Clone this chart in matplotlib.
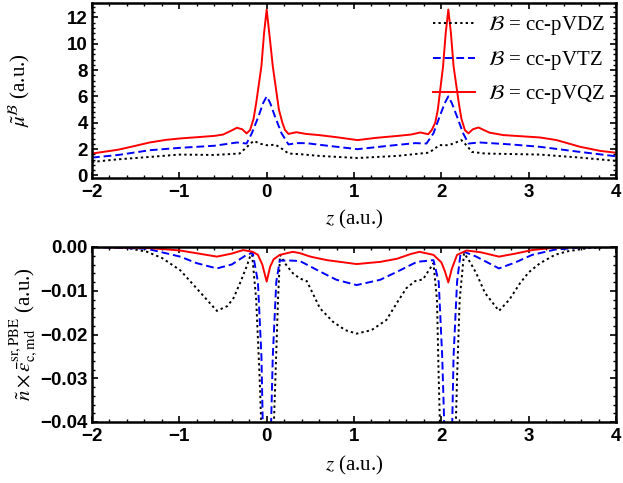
import matplotlib
matplotlib.use("Agg")
import matplotlib.pyplot as plt
from matplotlib.ticker import MultipleLocator

plt.rcParams['mathtext.fontset'] = 'stix'
plt.rcParams['axes.unicode_minus'] = True

# top panel: mu tilde
z_vdz_top = [-2.0, -1.7, -1.34, -1.0, -0.6, -0.31, -0.22, -0.15, -0.07, 0.0, 0.1, 0.18, 0.25,
             0.4, 0.6, 1.04, 1.5, 1.86, 1.98, 2.08, 2.15, 2.23, 2.3, 2.35, 2.5, 3.13, 3.59, 4.0]
mu_vdz = [1.02, 1.22, 1.4, 1.58, 1.55, 1.66, 2.2, 2.62, 2.4, 2.29, 2.33, 2.0, 1.66,
          1.6, 1.48, 1.32, 1.48, 1.73, 2.3, 2.29, 2.45, 2.68, 2.2, 1.78, 1.66, 1.58, 1.35, 1.1]

z_vtz_top = [-2.0, -1.7, -1.34, -1.0, -0.6, -0.34, -0.23, -0.17, -0.095, -0.04, 0.0, 0.04, 0.096,
             0.17, 0.25, 0.34, 0.45, 0.7, 1.04, 1.4, 1.7, 1.83, 1.91, 1.98, 2.04, 2.08, 2.12,
             2.18, 2.25, 2.31, 2.44, 2.8, 3.13, 3.59, 4.0]
mu_vtz = [1.35, 1.55, 1.91, 2.09, 2.25, 2.5, 2.42, 3.2, 4.46, 5.5, 6.0, 5.5, 4.46,
          3.2, 2.35, 2.45, 2.45, 2.25, 1.99, 2.25, 2.45, 2.42, 3.2, 4.46, 5.5, 6.0, 5.5,
          4.46, 3.2, 2.42, 2.5, 2.35, 2.17, 1.78, 1.45]

z_vqz_top = [-2.0, -1.7, -1.5, -1.34, -1.15, -1.0, -0.8, -0.6, -0.5, -0.42, -0.34, -0.28, -0.23,
             -0.19, -0.15, -0.12, -0.06, -0.03, 0.0, 0.03, 0.07, 0.14, 0.18, 0.21, 0.25, 0.34,
             0.45, 0.6, 0.8, 1.04, 1.25, 1.5, 1.65, 1.76, 1.85, 1.89, 1.93, 1.96, 2.02, 2.05,
             2.08, 2.11, 2.14, 2.2, 2.23, 2.27, 2.31, 2.36, 2.425, 2.55, 2.71, 2.9, 3.13, 3.32,
             3.59, 3.82, 4.0]
mu_vqz = [1.66, 1.95, 2.25, 2.5, 2.7, 2.8, 2.9, 3.0, 3.1, 3.35, 3.62, 3.5, 3.19,
          3.44, 4.3, 5.5, 8.3, 10.8, 12.6, 10.8, 8.3, 5.0, 4.0, 3.45, 3.15, 3.28,
          3.15, 3.06, 2.9, 2.68, 2.85, 3.0, 3.1, 3.26, 3.13, 3.44, 4.0, 5.0, 8.3, 10.8,
          12.6, 10.8, 8.3, 5.5, 4.3, 3.44, 3.19, 3.5, 3.64, 3.25, 3.06, 2.98, 2.88, 2.68,
          2.17, 1.86, 1.72]

# bottom panel: n x eps_c,md
z_vdz_bot = [-2.0, -1.6, -1.37, -1.2, -0.99, -0.8, -0.57, -0.45, -0.38, -0.3, -0.23, -0.17,
             -0.12, -0.08, -0.055, 0.0, 0.075, 0.1, 0.13, 0.153, 0.22, 0.3, 0.38, 0.46, 0.61,
             0.76, 0.9, 1.03, 1.2, 1.37, 1.5, 1.6, 1.7, 1.79, 1.91, 1.95, 1.97, 1.99, 2.08,
             2.16, 2.18, 2.21, 2.26, 2.33, 2.4, 2.5, 2.66, 2.78, 2.9, 3.0, 3.13, 3.3, 3.44,
             3.7, 4.0]
e_vdz = [0.0, -0.0002, -0.0011, -0.0025, -0.0053, -0.0095, -0.0146, -0.0135, -0.0117, -0.008,
         -0.0045, -0.001, -0.012, -0.03, -0.045, -0.08, -0.045, -0.03, -0.012, -0.0018,
         -0.004, -0.006, -0.0072, -0.0078, -0.014, -0.0171, -0.019, -0.0198, -0.019,
         -0.0167, -0.0125, -0.0094, -0.0078, -0.0074, -0.0037, -0.012, -0.03, -0.045,
         -0.08, -0.045, -0.03, -0.012, -0.0014, -0.0035, -0.006, -0.0105, -0.0146, -0.012,
         -0.0083, -0.0058, -0.0037, -0.0018, -0.001, -0.0002, 0.0]

z_vtz_bot = [-2.0, -1.37, -0.99, -0.8, -0.57, -0.4, -0.23, -0.16, -0.1, -0.06, -0.04, 0.0,
             0.045, 0.07, 0.11, 0.15, 0.27, 0.38, 0.61, 0.8, 1.03, 1.3, 1.53, 1.72, 1.91,
             1.97, 2.01, 2.04, 2.08, 2.12, 2.14, 2.18, 2.22, 2.26, 2.4, 2.66, 2.85, 3.04,
             3.3, 3.6, 4.0]
e_vtz = [0.0, -0.0004, -0.0022, -0.0037, -0.0049, -0.004, -0.0018, -0.0013, -0.008, -0.025,
         -0.045, -0.07, -0.045, -0.025, -0.008, -0.0031, -0.0031, -0.0032, -0.0056, -0.0075,
         -0.0087, -0.0075, -0.0053, -0.0034, -0.003, -0.008, -0.025, -0.045, -0.07, -0.045,
         -0.025, -0.008, -0.0015, -0.0011, -0.0022, -0.0049, -0.0035, -0.0018, -0.0006,
         -0.0001, 0.0]

z_vqz_bot = [-2.0, -1.37, -0.99, -0.57, -0.4, -0.27, -0.16, -0.1, -0.05, 0.0, 0.04, 0.08,
             0.15, 0.3, 0.38, 0.5, 0.69, 1.03, 1.3, 1.49, 1.65, 1.75, 1.91, 2.0, 2.04, 2.08,
             2.12, 2.18, 2.29, 2.45, 2.66, 2.85, 3.04, 3.27, 3.5, 4.0]
e_vqz = [0.0, -0.0002, -0.0008, -0.0022, -0.0015, -0.0007, -0.0011, -0.0018, -0.004, -0.0079,
         -0.0045, -0.0028, -0.0018, -0.0011, -0.0014, -0.0022, -0.003, -0.0039, -0.0034,
         -0.0027, -0.0016, -0.0011, -0.0018, -0.0035, -0.0055, -0.0081, -0.005, -0.0018,
         -0.0008, -0.0012, -0.0022, -0.0015, -0.0007, -0.0002, 0.0, 0.0]

labels = [r'$\mathcal{B}$ = cc-pVDZ', r'$\mathcal{B}$ = cc-pVTZ', r'$\mathcal{B}$ = cc-pVQZ']

W, H = 623, 483
fig = plt.figure(figsize=(W / 100, H / 100), dpi=100)
ax1 = fig.add_axes([92 / W, 1 - 178 / H, 524 / W, 175 / H])
ax2 = fig.add_axes([92 / W, 1 - 422 / H, 524 / W, 175 / H])

lw = 1.4
ax1.plot(z_vdz_top, mu_vdz, color='black', ls=(0, (1.2, 1.6)), lw=lw, label=labels[0])
ax1.plot(z_vtz_top, mu_vtz, color='blue', ls=(0, (4, 2)), lw=lw, label=labels[1])
ax1.plot(z_vqz_top, mu_vqz, color='red', ls='-', lw=lw, label=labels[2])

ax2.plot(z_vdz_bot, e_vdz, color='black', ls=(0, (1.2, 1.6)), lw=lw)
ax2.plot(z_vtz_bot, e_vtz, color='blue', ls=(0, (4, 2)), lw=lw)
ax2.plot(z_vqz_bot, e_vqz, color='red', ls='-', lw=lw)

ax1.set_ylim(-0.2, 13.1)
ax1.yaxis.set_major_locator(MultipleLocator(2))
ax1.yaxis.set_minor_locator(MultipleLocator(0.4))
ax2.set_ylim(-0.04, 0.0)
ax2.yaxis.set_major_locator(MultipleLocator(0.01))
ax2.yaxis.set_minor_locator(MultipleLocator(0.002))
ax2.yaxis.set_major_formatter(matplotlib.ticker.FuncFormatter(
    lambda v, p: ('%.2f' % v).replace('-', '\u2212') if abs(v) > 1e-9 else '0.00'))

tick_font = {'family': 'Liberation Sans', 'weight': 'bold', 'size': 13.5}
label_font = {'family': 'Liberation Serif', 'size': 15}

for ax in (ax1, ax2):
    ax.set_xlim(-2, 4)
    ax.xaxis.set_major_locator(MultipleLocator(1))
    ax.xaxis.set_minor_locator(MultipleLocator(0.2))
    ax.tick_params(which='both', direction='in', top=True, right=True)
    ax.tick_params(axis='x', pad=4)
    ax.tick_params(axis='y', pad=3)
    ax.tick_params(which='major', length=4, width=1.2)
    ax.tick_params(which='minor', length=2.5, width=1.0)
    for sp in ax.spines.values():
        sp.set_linewidth(1.8)
    for t in ax.get_xticklabels() + ax.get_yticklabels():
        t.set_fontproperties(matplotlib.font_manager.FontProperties(**tick_font))
    ax.set_xlabel(r'$z$ (a.u.)', fontdict=label_font)

ax1.xaxis.set_label_coords(0.5, -0.17)
ax2.xaxis.set_label_coords(0.5, -0.18)

ax1.set_ylabel(r'$\tilde{\mu}^{\mathcal{B}}$ (a.u.)', fontdict=label_font)
ax1.yaxis.set_label_coords(-0.115, 0.5)
ax2.set_ylabel(r'$\tilde{n}\times\bar{\varepsilon}_{\mathrm{c,md}}^{\mathrm{sr,PBE}}$ (a.u.)',
               fontdict=label_font)
ax2.yaxis.set_label_coords(-0.1, 0.5)

ax1.legend(loc='upper right', bbox_to_anchor=(1.0, 1.0), frameon=False,
           prop={'family': 'Liberation Serif', 'size': 15},
           handlelength=2.0, handletextpad=0.6, labelspacing=0.55, borderaxespad=0.15)

fig.savefig('out.png', dpi=100)
